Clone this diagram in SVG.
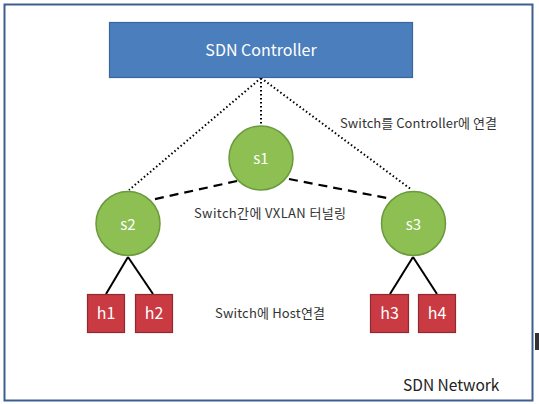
<svg xmlns="http://www.w3.org/2000/svg" width="539" height="404" viewBox="0 0 539 404">
<style>
.t{font-family:"Noto Sans CJK KR","Liberation Sans",sans-serif;}
.lbl{font-size:13px;fill:#333;}
.sw{fill:#8dbf52;stroke:#6a9a3c;stroke-width:1.5;}
.host{fill:#c93a42;stroke:#8f2a30;stroke-width:1.2;}
.wt{fill:#fff;text-anchor:middle;}
.dot{stroke:#000;stroke-width:2;stroke-dasharray:1.5 2.5;fill:none;}
.dash{stroke:#000;stroke-width:2.2;stroke-dasharray:9 6;fill:none;}
.solid{stroke:#000;stroke-width:2;fill:none;}
</style>
<rect x="0" y="0" width="539" height="404" fill="#fff"/>
<rect x="4.5" y="4.5" width="528" height="396" fill="#fff" stroke="#3d5f8f" stroke-width="2"/>
<rect x="535" y="333" width="4" height="17" fill="#333"/>
<g id="connectors">
<line class="dot" x1="261" y1="78" x2="261" y2="126"/>
<line class="dot" x1="261" y1="78" x2="129" y2="190"/>
<line class="dot" x1="261" y1="78" x2="412" y2="190"/>
<line class="dash" x1="237" y1="181" x2="151" y2="200"/>
<line class="dash" x1="289" y1="179" x2="392" y2="199"/>
<line class="solid" x1="128" y1="257" x2="106" y2="294"/>
<line class="solid" x1="128" y1="257" x2="153" y2="294"/>
<line class="solid" x1="413" y1="257" x2="390" y2="294"/>
<line class="solid" x1="413" y1="257" x2="437" y2="294"/>
</g>
<g id="controller">
<rect x="109.5" y="22.5" width="303" height="55" fill="#4a7ebd" stroke="#3a669c" stroke-width="1.2"/>
<text class="t wt" x="261" y="56" font-size="16">SDN Controller</text>
</g>
<g id="s1"><circle class="sw" cx="261" cy="158" r="32"/><text class="t wt" x="261" y="164" font-size="15">s1</text></g>
<g id="s2"><circle class="sw" cx="128" cy="223.5" r="32"/><text class="t wt" x="128" y="229.5" font-size="15">s2</text></g>
<g id="s3"><circle class="sw" cx="413.5" cy="223.5" r="32"/><text class="t wt" x="413.5" y="229.5" font-size="15">s3</text></g>
<g id="h1"><rect class="host" x="87.5" y="294.5" width="37" height="38"/><text class="t wt" x="106" y="319" font-size="16">h1</text></g>
<g id="h2"><rect class="host" x="135.5" y="294.5" width="37" height="38"/><text class="t wt" x="154" y="319" font-size="16">h2</text></g>
<g id="h3"><rect class="host" x="370.5" y="294.5" width="38" height="38"/><text class="t wt" x="389.5" y="319" font-size="16">h3</text></g>
<g id="h4"><rect class="host" x="418.5" y="294.5" width="37" height="38"/><text class="t wt" x="437" y="319" font-size="16">h4</text></g>
<g id="labels">
<text class="t lbl" x="340" y="128" textLength="157">Switch를 Controller에 연결</text>
<text class="t lbl" x="194" y="218" textLength="152">Switch간에 VXLAN 터널링</text>
<text class="t lbl" x="215" y="318" textLength="110">Switch에 Host연결</text>
<text class="t" x="403" y="391" font-size="15.5" fill="#222">SDN Network</text>
</g>
</svg>
